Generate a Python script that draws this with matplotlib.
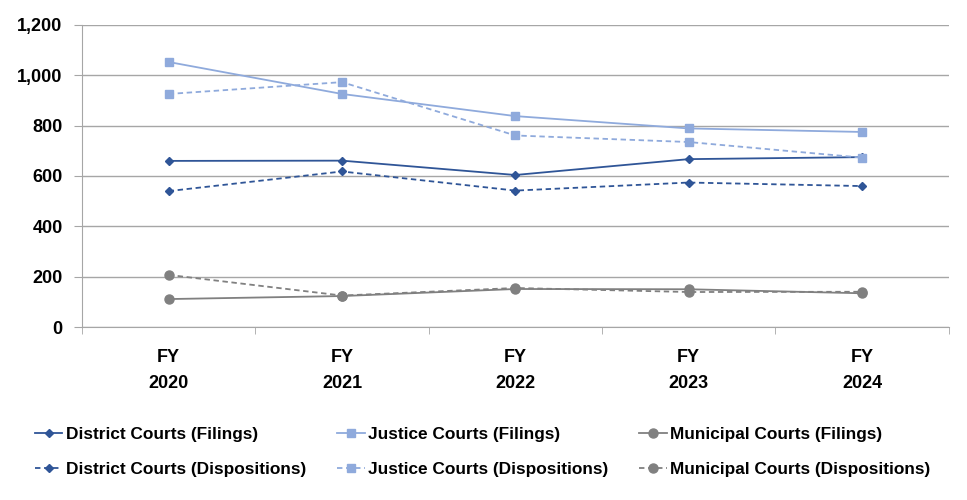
import matplotlib.pyplot as plt
import numpy as np

plt.rcParams['font.family'] = ['Liberation Sans', 'DejaVu Sans']
plt.rcParams['font.weight'] = 'bold'

years = ['FY\n2020', 'FY\n2021', 'FY\n2022', 'FY\n2023', 'FY\n2024']
district_filings = [660, 661, 604, 667, 675]
district_dispositions = [540, 618, 542, 574, 560]
justice_filings = [1053, 926, 838, 789, 775]
justice_dispositions = [926, 973, 761, 735, 673]
municipal_filings = [111, 123, 151, 150, 134]
municipal_dispositions = [207, 125, 155, 139, 140]

dark = '#2F5597'
light = '#8FAADC'
grey = '#808080'

fig = plt.figure(figsize=(9.67, 5), dpi=100)
ax = fig.add_axes([0.0848, 0.346, 0.8962, 0.604])
x = np.arange(len(years))

ax.plot(x, district_filings, color=dark, lw=1.3, marker='D', ms=4, label='District Courts (Filings)')
ax.plot(x, district_dispositions, color=dark, lw=1.3, ls=(0, (3, 2)), marker='D', ms=4, label='District Courts (Dispositions)')
ax.plot(x, justice_filings, color=light, lw=1.3, marker='s', ms=6, label='Justice Courts (Filings)')
ax.plot(x, justice_dispositions, color=light, lw=1.3, ls=(0, (3, 2)), marker='s', ms=6, label='Justice Courts (Dispositions)')
ax.plot(x, municipal_filings, color=grey, lw=1.3, marker='o', ms=6.5, label='Municipal Courts (Filings)')
ax.plot(x, municipal_dispositions, color=grey, lw=1.3, ls=(0, (3, 2)), marker='o', ms=6.5, label='Municipal Courts (Dispositions)')

ax.set_xlim(-0.5, len(years) - 0.5)
ax.set_ylim(0, 1200)
ax.set_yticks(range(0, 1201, 200))
ax.set_yticklabels([f'{v:,}' for v in range(0, 1201, 200)], fontsize=13, fontweight='bold')
ax.set_xticks(x)
ax.set_xticklabels(years, fontsize=13, fontweight='bold', linespacing=1.65)
ax.set_xticks(np.arange(-0.5, len(years)), minor=True)
ax.tick_params(axis='x', which='major', length=0, pad=16)
ax.tick_params(axis='x', which='minor', length=5, color='#A6A6A6')
ax.tick_params(axis='y', length=6, color='#A6A6A6', pad=8)
ax.grid(axis='y', color='#A6A6A6', lw=1)
ax.set_axisbelow(True)
for s in ['top', 'right']:
    ax.spines[s].set_visible(False)
for s in ['left', 'bottom']:
    ax.spines[s].set_color('#A6A6A6')

leg = fig.legend(loc='upper left', bbox_to_anchor=(0.029, 0.16), ncol=3, frameon=False,
                 prop={'size': 12.4, 'weight': 'bold'}, handlelength=1.6, handletextpad=0.2,
                 columnspacing=1.8, labelspacing=1.15, borderaxespad=0)

fig.savefig('out.png', dpi=100)
